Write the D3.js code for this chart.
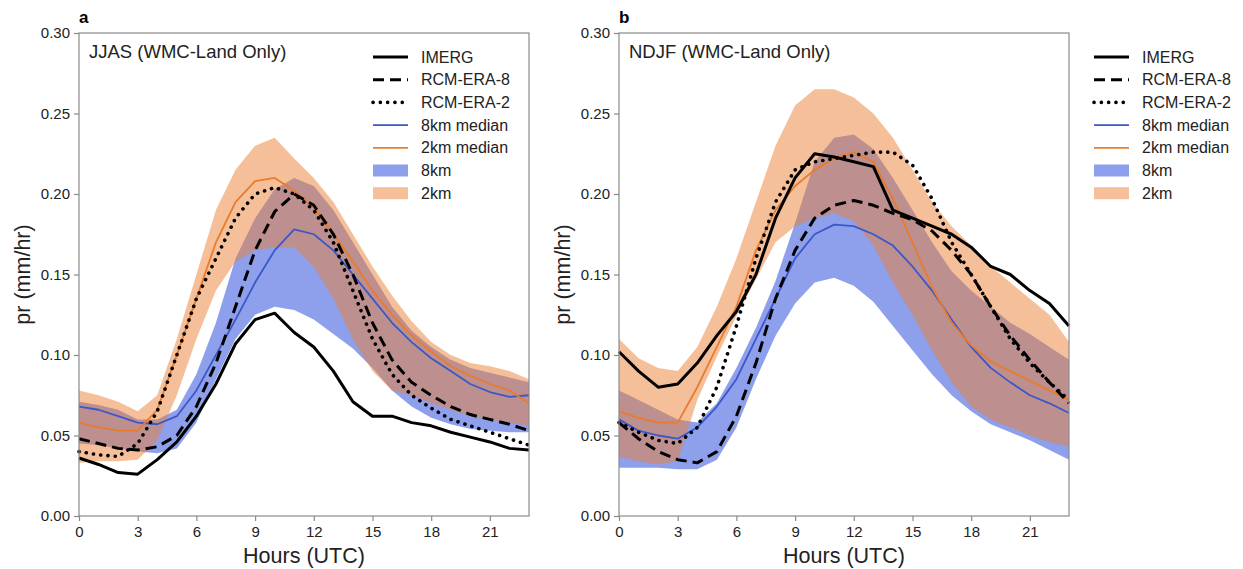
<!DOCTYPE html>
<html>
<head>
<meta charset="utf-8">
<script src="https://cdn.jsdelivr.net/npm/d3@7"></script>
<style>
  body { margin: 0; background: #fff; }
  svg { font-family: "Liberation Sans", Arial, sans-serif; }
</style>
</head>
<body>
<svg id="chart" width="1243" height="569"></svg>
<script>
const hours = d3.range(0, 24);
const xTicks = [0, 3, 6, 9, 12, 15, 18, 21];
const yTicks = [0, 0.05, 0.10, 0.15, 0.20, 0.25, 0.30];
const legendLabels = ['IMERG', 'RCM-ERA-8', 'RCM-ERA-2', '8km median', '2km median', '8km', '2km'];

// panel a: JJAS
const jjasImerg = [0.036, 0.032, 0.027, 0.026, 0.035, 0.046, 0.062, 0.082, 0.107, 0.122, 0.126, 0.114, 0.105, 0.090, 0.071, 0.062, 0.062, 0.058, 0.056, 0.052, 0.049, 0.046, 0.042, 0.041];
const jjasEra8 = [0.048, 0.045, 0.042, 0.041, 0.043, 0.050, 0.068, 0.095, 0.130, 0.165, 0.189, 0.200, 0.193, 0.175, 0.150, 0.120, 0.097, 0.083, 0.075, 0.068, 0.063, 0.060, 0.057, 0.053];
const jjasEra2 = [0.040, 0.038, 0.037, 0.045, 0.065, 0.100, 0.135, 0.160, 0.185, 0.200, 0.204, 0.200, 0.190, 0.170, 0.140, 0.110, 0.088, 0.075, 0.067, 0.060, 0.056, 0.052, 0.048, 0.044];
const jjasMed8 = [0.068, 0.066, 0.062, 0.058, 0.057, 0.062, 0.078, 0.100, 0.122, 0.145, 0.165, 0.178, 0.175, 0.165, 0.150, 0.135, 0.120, 0.108, 0.098, 0.090, 0.082, 0.077, 0.074, 0.075];
const jjasMed2 = [0.058, 0.055, 0.053, 0.053, 0.066, 0.100, 0.135, 0.170, 0.195, 0.208, 0.210, 0.202, 0.192, 0.175, 0.158, 0.140, 0.125, 0.112, 0.102, 0.093, 0.087, 0.082, 0.078, 0.070];
const jjasLow8 = [0.045, 0.044, 0.042, 0.040, 0.039, 0.042, 0.058, 0.085, 0.110, 0.125, 0.130, 0.128, 0.122, 0.113, 0.104, 0.092, 0.078, 0.068, 0.061, 0.057, 0.054, 0.053, 0.052, 0.052];
const jjasHigh8 = [0.071, 0.069, 0.066, 0.060, 0.060, 0.066, 0.088, 0.120, 0.160, 0.185, 0.203, 0.210, 0.205, 0.190, 0.170, 0.150, 0.130, 0.115, 0.105, 0.097, 0.092, 0.089, 0.086, 0.083];
const jjasLow2 = [0.033, 0.034, 0.034, 0.035, 0.047, 0.075, 0.110, 0.140, 0.158, 0.165, 0.167, 0.167, 0.155, 0.135, 0.110, 0.090, 0.078, 0.075, 0.070, 0.066, 0.062, 0.060, 0.058, 0.056];
const jjasHigh2 = [0.078, 0.075, 0.071, 0.065, 0.075, 0.110, 0.150, 0.190, 0.215, 0.230, 0.235, 0.222, 0.210, 0.195, 0.175, 0.155, 0.137, 0.121, 0.108, 0.100, 0.095, 0.093, 0.090, 0.085];

// panel b: NDJF
const ndjfImerg = [0.102, 0.090, 0.080, 0.082, 0.095, 0.112, 0.127, 0.150, 0.185, 0.210, 0.225, 0.223, 0.220, 0.217, 0.190, 0.185, 0.180, 0.175, 0.167, 0.155, 0.150, 0.140, 0.132, 0.118];
const ndjfEra8 = [0.058, 0.048, 0.040, 0.035, 0.033, 0.040, 0.062, 0.095, 0.135, 0.165, 0.185, 0.193, 0.196, 0.193, 0.188, 0.184, 0.177, 0.165, 0.150, 0.130, 0.112, 0.097, 0.083, 0.070];
const ndjfEra2 = [0.058, 0.052, 0.047, 0.045, 0.055, 0.080, 0.118, 0.160, 0.195, 0.215, 0.220, 0.222, 0.224, 0.226, 0.226, 0.218, 0.197, 0.170, 0.150, 0.130, 0.110, 0.095, 0.083, 0.072];
const ndjfMed8 = [0.060, 0.053, 0.050, 0.048, 0.055, 0.068, 0.085, 0.110, 0.135, 0.160, 0.175, 0.181, 0.180, 0.175, 0.168, 0.155, 0.140, 0.122, 0.105, 0.092, 0.083, 0.075, 0.070, 0.064];
const ndjfMed2 = [0.065, 0.061, 0.058, 0.058, 0.080, 0.105, 0.130, 0.165, 0.190, 0.205, 0.215, 0.222, 0.226, 0.220, 0.197, 0.170, 0.142, 0.120, 0.106, 0.096, 0.090, 0.084, 0.078, 0.072];
const ndjfLow8 = [0.030, 0.030, 0.030, 0.029, 0.029, 0.035, 0.055, 0.085, 0.112, 0.132, 0.145, 0.148, 0.143, 0.133, 0.118, 0.103, 0.088, 0.075, 0.065, 0.057, 0.052, 0.047, 0.041, 0.035];
const ndjfHigh8 = [0.078, 0.072, 0.066, 0.060, 0.058, 0.070, 0.092, 0.117, 0.146, 0.182, 0.220, 0.235, 0.237, 0.228, 0.210, 0.190, 0.170, 0.152, 0.140, 0.130, 0.120, 0.113, 0.105, 0.097];
const ndjfLow2 = [0.037, 0.034, 0.032, 0.034, 0.072, 0.099, 0.124, 0.147, 0.170, 0.180, 0.185, 0.188, 0.183, 0.168, 0.145, 0.125, 0.103, 0.083, 0.068, 0.060, 0.055, 0.050, 0.046, 0.043];
const ndjfHigh2 = [0.110, 0.098, 0.092, 0.090, 0.105, 0.130, 0.160, 0.195, 0.230, 0.255, 0.265, 0.265, 0.260, 0.250, 0.235, 0.215, 0.195, 0.180, 0.168, 0.155, 0.145, 0.135, 0.125, 0.108];

const BLUE_FILL = 'rgb(60,90,220)';
const ORANGE_FILL = 'rgb(236,128,52)';
const BLUE_LINE = '#3b57c9';
const ORANGE_LINE = '#ea7b2c';
const AXIS_GREY = '#8a8a8a';

const svg = d3.select('#chart');

const styles = {
  imerg: { stroke: '#000', width: 3, dash: null, cap: 'butt' },
  era8: { stroke: '#000', width: 3, dash: '11,6', cap: 'butt' },
  era2: { stroke: '#000', width: 3.6, dash: '0.1,7.2', cap: 'round' },
  med8: { stroke: BLUE_LINE, width: 1.8, dash: null, cap: 'butt' },
  med2: { stroke: ORANGE_LINE, width: 1.8, dash: null, cap: 'butt' }
};

function drawPanel(opt) {
  const x = d3.scaleLinear().domain([0, 23]).range([opt.left, opt.left + 450]);
  const y = d3.scaleLinear().domain([0, 0.30]).range([516, 33]);
  const g = svg.append('g');

  const area = (lo, hi) => d3.area()
    .x((d, i) => x(hours[i]))
    .y0((d, i) => y(lo[i]))
    .y1((d, i) => y(hi[i]))(hours);

  g.append('path').attr('d', area(opt.low8, opt.high8))
    .attr('fill', BLUE_FILL).attr('fill-opacity', 0.58);
  g.append('path').attr('d', area(opt.low2, opt.high2))
    .attr('fill', ORANGE_FILL).attr('fill-opacity', 0.5);

  const line = d3.line().x((d, i) => x(hours[i])).y(d => y(d));
  const series = [
    [opt.med8, styles.med8],
    [opt.med2, styles.med2],
    [opt.imerg, styles.imerg],
    [opt.era8, styles.era8],
    [opt.era2, styles.era2]
  ];
  for (const [vals, s] of series) {
    g.append('path').attr('d', line(vals))
      .attr('fill', 'none')
      .attr('stroke', s.stroke)
      .attr('stroke-width', s.width)
      .attr('stroke-dasharray', s.dash)
      .attr('stroke-linecap', s.cap)
      .attr('stroke-linejoin', 'round');
  }

  // frame
  g.append('rect')
    .attr('x', x(0)).attr('y', y(0.30))
    .attr('width', x(23) - x(0)).attr('height', y(0) - y(0.30))
    .attr('fill', 'none').attr('stroke', AXIS_GREY).attr('stroke-width', 1.2);

  const xAxis = g.append('g').attr('transform', `translate(0,${y(0)})`)
    .call(d3.axisBottom(x).tickValues(xTicks).tickSize(5).tickPadding(5));
  const yAxis = g.append('g').attr('transform', `translate(${x(0)},0)`)
    .call(d3.axisLeft(y).tickValues(yTicks).tickFormat(d3.format('.2f')).tickSize(5).tickPadding(4));
  for (const ax of [xAxis, yAxis]) {
    ax.select('.domain').remove();
    ax.selectAll('line').attr('stroke', AXIS_GREY).attr('stroke-width', 1.2);
    ax.selectAll('text').attr('fill', '#222').style('font-size', '15px')
      .style('font-family', '"Liberation Sans", Arial, sans-serif');
  }

  g.append('text').attr('x', x(0)).attr('y', 23)
    .attr('font-size', 17).attr('font-weight', 'bold').text(opt.letter);
  g.append('text').attr('x', x(0) + 10).attr('y', 58)
    .attr('font-size', 18.5).attr('fill', '#222').text(opt.title);

  g.append('text').attr('x', (x(0) + x(23)) / 2).attr('y', 563)
    .attr('text-anchor', 'middle').attr('font-size', 21.5).attr('fill', '#222').text('Hours (UTC)');
  g.append('text')
    .attr('transform', `translate(${x(0) - 49},${y(0.15)}) rotate(-90)`)
    .attr('text-anchor', 'middle').attr('font-size', 21.5).attr('fill', '#222').text('pr (mm/hr)');

  // legend
  const lg = g.append('g').attr('transform', `translate(${opt.legendX},57)`);
  const legendStyles = [styles.imerg, styles.era8, styles.era2, styles.med8, styles.med2];
  legendLabels.forEach((lab, i) => {
    const row = lg.append('g').attr('transform', `translate(0,${i * 22.7})`);
    if (i < 5) {
      const s = legendStyles[i];
      row.append('line').attr('x1', 0).attr('x2', 35).attr('y1', 0).attr('y2', 0)
        .attr('stroke', s.stroke).attr('stroke-width', s.width)
        .attr('stroke-dasharray', s.dash).attr('stroke-linecap', s.cap);
    } else {
      row.append('rect').attr('x', 0).attr('y', -6).attr('width', 35).attr('height', 12)
        .attr('fill', i === 5 ? BLUE_FILL : ORANGE_FILL)
        .attr('fill-opacity', i === 5 ? 0.58 : 0.5);
    }
    row.append('text').attr('x', 48).attr('y', 5.5)
      .attr('font-size', 16).attr('fill', '#222').text(lab);
  });
}

drawPanel({
  left: 79, letter: 'a', title: 'JJAS (WMC-Land Only)', legendX: 373,
  imerg: jjasImerg, era8: jjasEra8, era2: jjasEra2, med8: jjasMed8, med2: jjasMed2,
  low8: jjasLow8, high8: jjasHigh8, low2: jjasLow2, high2: jjasHigh2
});
drawPanel({
  left: 619, letter: 'b', title: 'NDJF (WMC-Land Only)', legendX: 1094,
  imerg: ndjfImerg, era8: ndjfEra8, era2: ndjfEra2, med8: ndjfMed8, med2: ndjfMed2,
  low8: ndjfLow8, high8: ndjfHigh8, low2: ndjfLow2, high2: ndjfHigh2
});
</script>
</body>
</html>
